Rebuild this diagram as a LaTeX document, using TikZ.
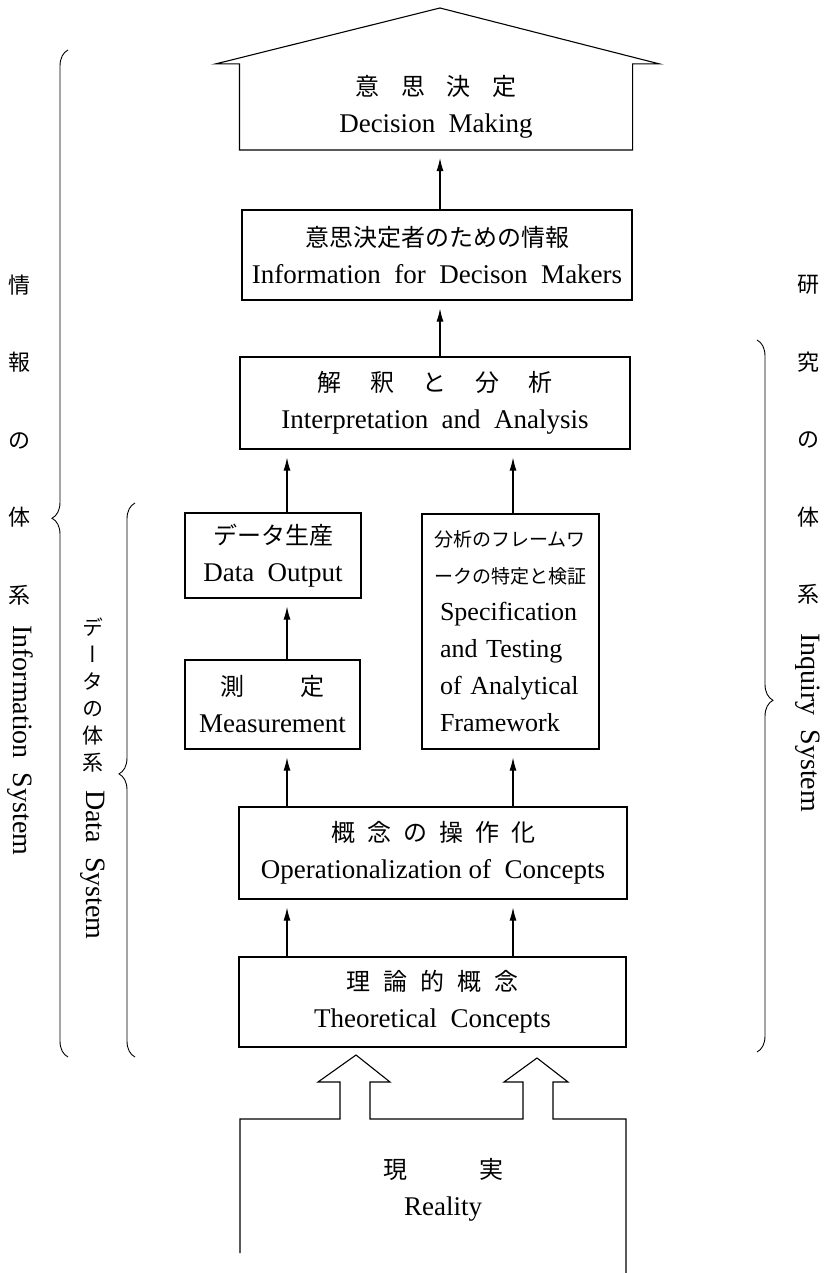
\documentclass[tikz,border=0pt]{standalone}
\usepackage{fontspec}
\setmainfont{Liberation Serif}
\newfontfamily\jp{Noto Sans CJK JP}
\newfontfamily\jpv[RawFeature=+vert]{Noto Sans CJK JP}
\newcommand\jbox{\jp\fontsize{24}{37}\selectfont}
\usetikzlibrary{arrows.meta,decorations.pathreplacing}

\tikzset{
  box/.style={draw, line width=1.1pt, align=center, inner sep=0pt, font=\fontsize{27}{37}\selectfont},
  up/.style={-{Latex[length=13pt,width=7pt]}, line width=1.1pt, shorten >=8pt},
  wall/.style={line width=1.1pt},
  bracket/.style={decorate, decoration={brace, amplitude=16pt, aspect=#1}, line width=0.9pt},
  side/.style={font=\jp\fontsize{22}{77.5}\selectfont, align=center, inner sep=0pt},
  sidename/.style={rotate=-90, anchor=west, inner sep=0pt, font=\fontsize{28}{30}\selectfont}
}

\begin{document}
\begin{tikzpicture}[x=1pt,y=1pt]
\useasboundingbox (0,0) rectangle (828,-1273);

% main boxes
\node[box, draw=none, minimum width=392pt, minimum height=85pt] (decision) at (436,-107)
  {{\jbox 意\hspace{0.9em}思\hspace{0.9em}決\hspace{0.9em}定}\\Decision\ \ Making};
\node[box, minimum width=390pt, minimum height=90pt] (info) at (437,-255)
  {{\jbox 意思決定者のための情報}\\Information\ \ for\ \ Decison\ \ Makers};
\node[box, minimum width=390pt, minimum height=92pt] (interp) at (435,-403)
  {{\jbox 解\hspace{1.2em}釈\hspace{1.2em}と\hspace{1.2em}分\hspace{1.2em}析}\\Interpretation\ \ and\ \ Analysis};
\node[box, minimum width=176pt, minimum height=85pt] (dataout) at (273,-555.5)
  {{\jbox データ生産}\\Data\ \ Output};
\node[box, minimum width=175pt, minimum height=89pt] (measure) at (272.5,-704.5)
  {{\jbox 測\hspace{2.3em}定}\\Measurement};
\node[box, align=left, text width=159pt, inner xsep=9pt, minimum height=235pt,
  font=\fontsize{26}{37}\selectfont] (frame) at (510.5,-631.5)
  {{\jp\fontsize{19}{37}\selectfont \hspace*{3pt}分析のフレームワ}\\
   {\jp\fontsize{19}{37}\selectfont \hspace*{3pt}ークの特定と検証}\\
   \hspace*{9pt}Specification\\
   \hspace*{9pt}and Testing\\
   \hspace*{9pt}of Analytical\\
   \hspace*{9pt}Framework};
\node[box, minimum width=388pt, minimum height=92pt] (oper) at (433,-853)
  {{\jbox 概\hspace{0.5em}念\hspace{0.5em}の\hspace{0.5em}操\hspace{0.5em}作\hspace{0.5em}化}\\Operationalization\ of\ \ Concepts};
\node[box, minimum width=387pt, minimum height=90pt] (theory) at (432.5,-1002)
  {{\jbox 理\hspace{0.55em}論\hspace{0.55em}的\hspace{0.55em}概\hspace{0.55em}念}\\Theoretical\ \ Concepts};
\node[box, draw=none] (reality) at (443,-1190)
  {{\jbox 現\hspace{3em}実}\\Reality};

% house roof
\draw[wall] (decision.south west) -- (decision.north west) -- ([xshift=-24pt]decision.north west)
  -- (440,-8) -- ([xshift=27pt]decision.north east) -- (decision.north east)
  -- (decision.south east) -- cycle;

% reality with the two hollow arrows
\draw[wall] (240,-1253) -- (240,-1119) -- (340,-1119) -- (340,-1082) -- (318,-1082)
  -- (356,-1055) -- (390,-1082) -- (370,-1082) -- (370,-1119) -- (523,-1119)
  -- (523,-1082) -- (504,-1082) -- (537,-1058) -- (568,-1082) -- (553,-1082)
  -- (553,-1119) -- (626,-1119) -- (626,-1273);

% arrows
\coordinate (lx) at (287,0);
\coordinate (rx) at (513,0);
\coordinate (mx) at (440,0);
\draw[up] (theory.north -| lx) -- (oper.south -| lx);
\draw[up] (theory.north -| rx) -- (oper.south -| rx);
\draw[up] (oper.north -| lx) -- (measure.south -| lx);
\draw[up] (oper.north -| rx) -- (frame.south -| rx);
\draw[up] (measure.north -| lx) -- (dataout.south -| lx);
\draw[up] (dataout.north -| lx) -- (interp.south -| lx);
\draw[up] (frame.north -| rx) -- (interp.south -| rx);
\draw[up] (interp.north -| mx) -- (info.south -| mx);
\draw[up] (info.north -| mx) -- (decision.south -| mx);

% side labels
\node[side] (infocol) at (20,-440) {情\\報\\の\\体\\系};
\node[sidename] (infoname) at (20,-625) {Information\ \ System};
\node[side] (inqcol) at (808,-440) {研\\究\\の\\体\\系};
\node[sidename] (inqname) at (808,-633) {Inquiry\ \ System};
\node[side, font=\jpv\fontsize{21}{27}\selectfont] (datacol) at (93,-695) {デ\\ー\\タ\\の\\体\\系};
\node[sidename] (dataname) at (93,-790) {Data\ \ System};

% braces
\draw[bracket=0.535] (68,-1057) -- (68,-50);
\draw[bracket=0.511] (135,-1057) -- (135,-503);
\draw[bracket=0.506] (757,-340) -- (757,-1052);
\end{tikzpicture}
\end{document}
